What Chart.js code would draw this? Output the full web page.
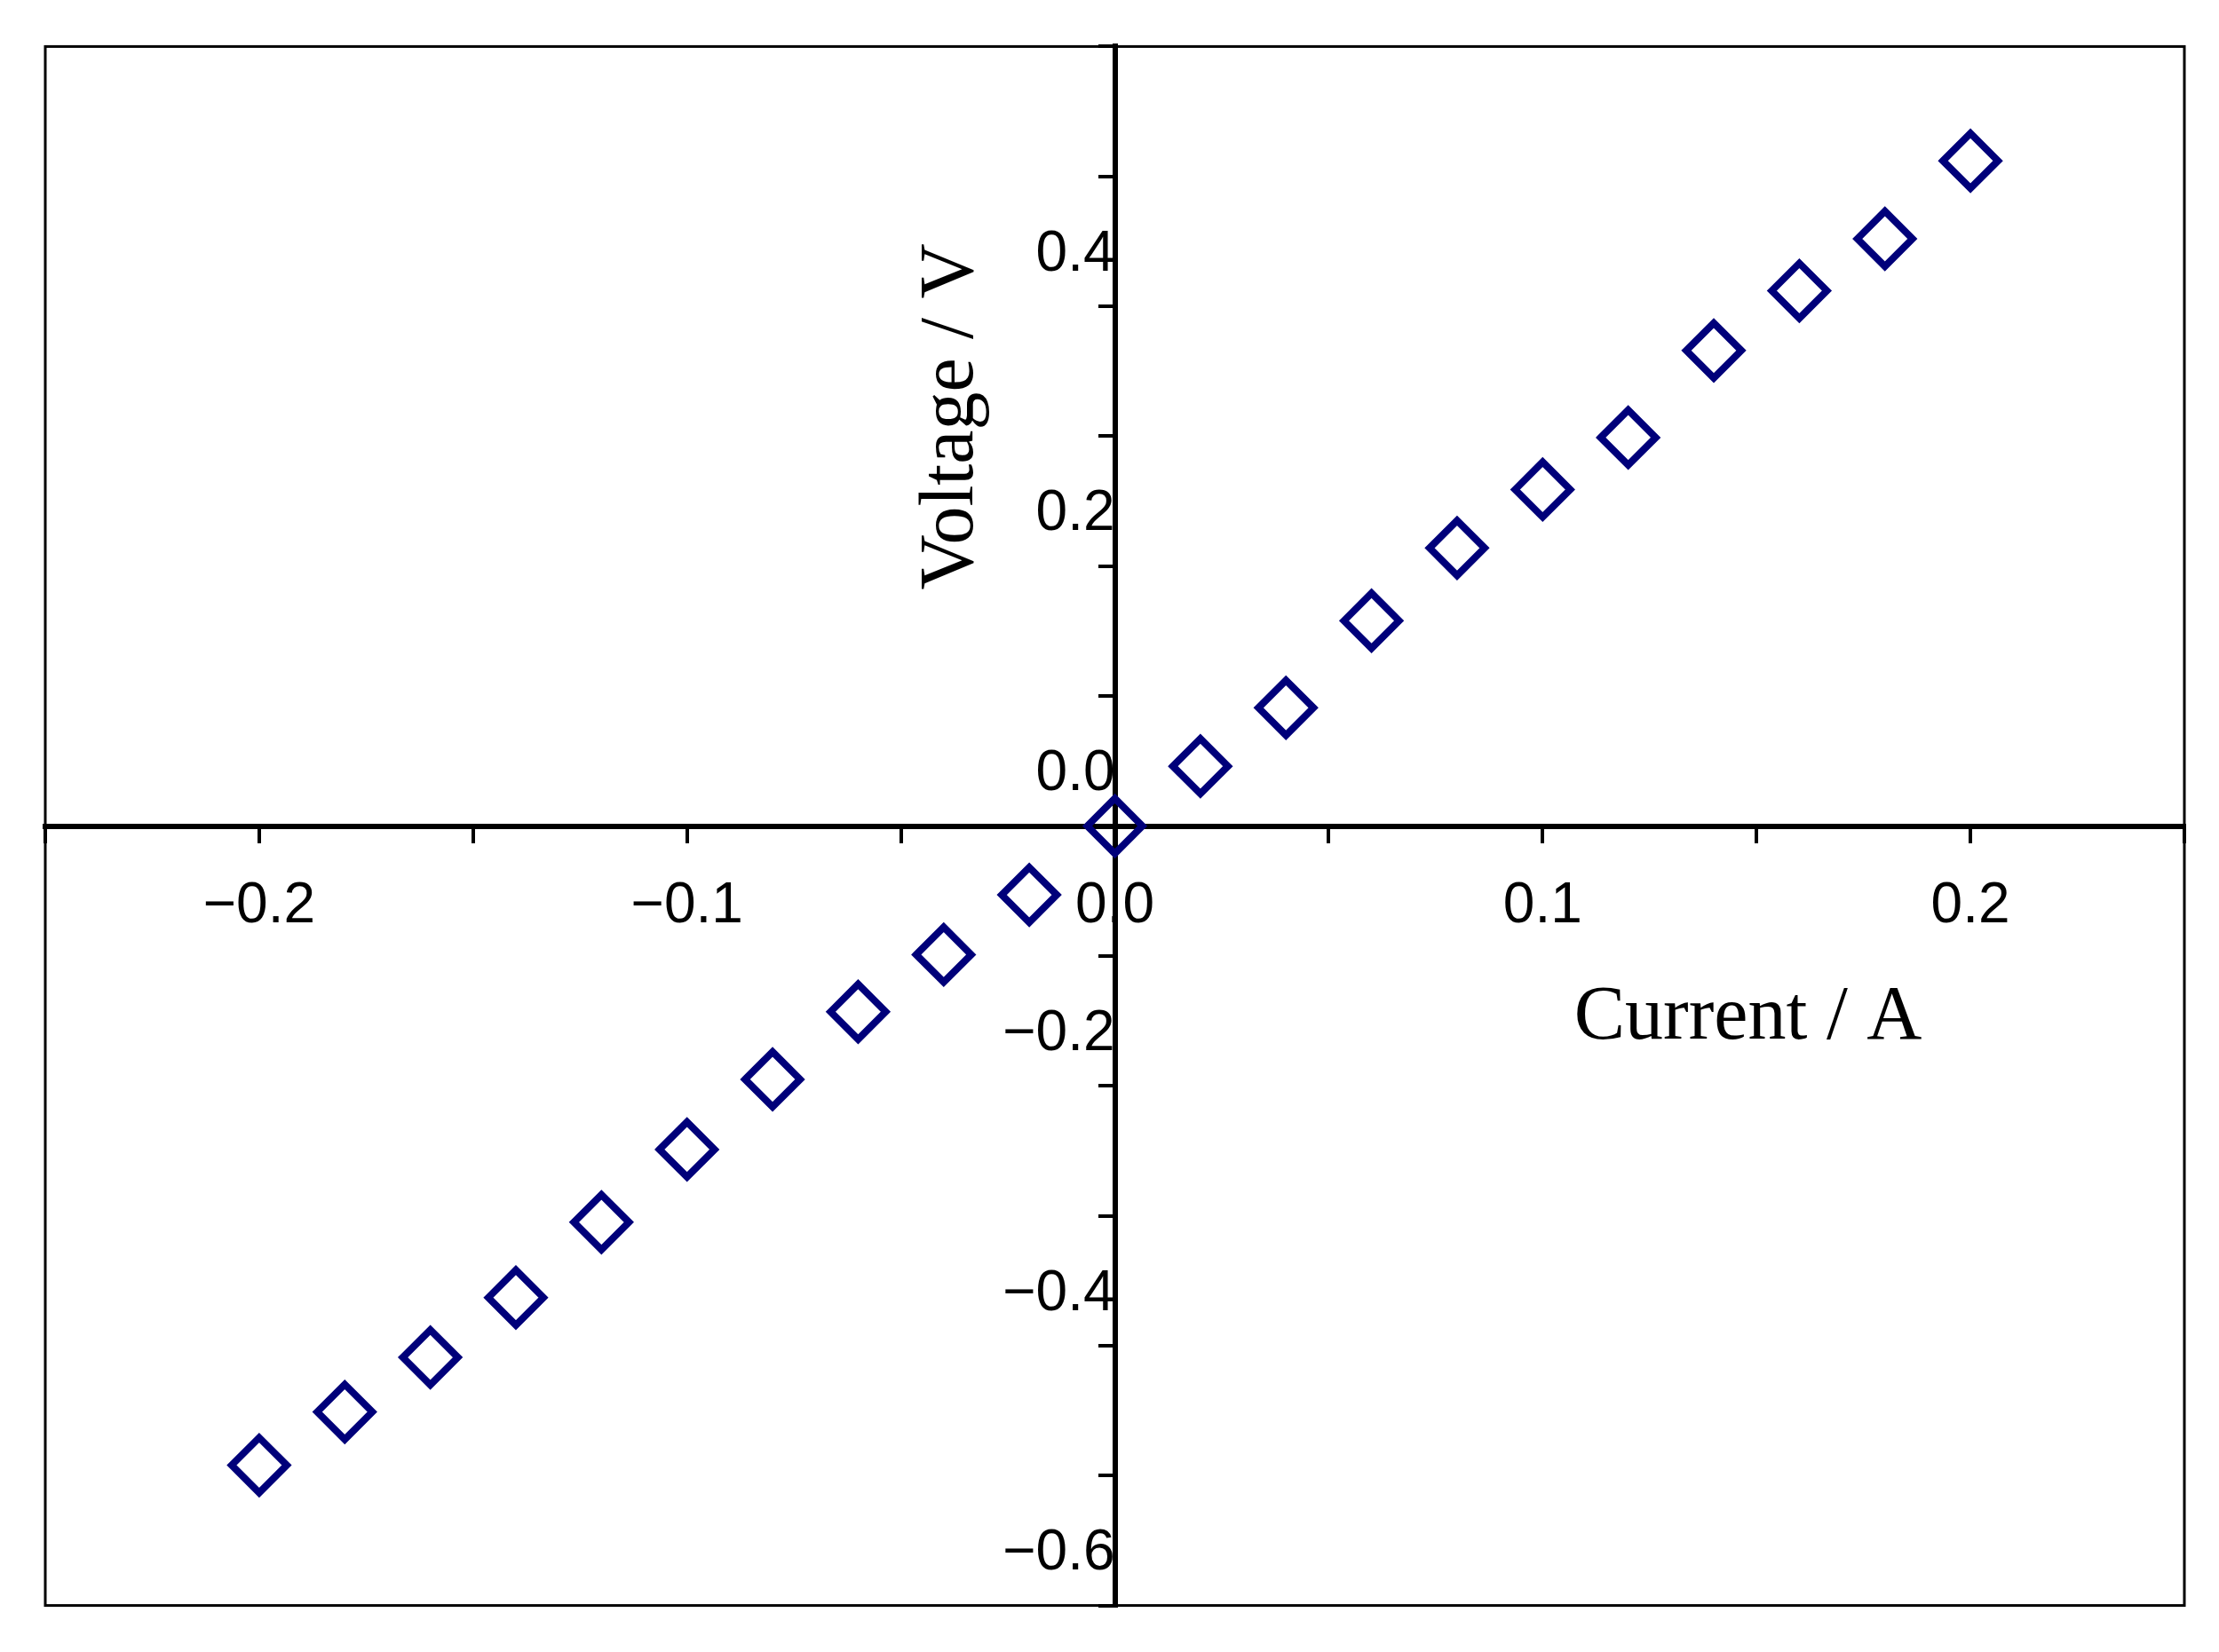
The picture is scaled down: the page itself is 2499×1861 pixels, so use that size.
<!DOCTYPE html>
<html>
<head>
<meta charset="utf-8">
<script src="https://cdn.jsdelivr.net/npm/chart.js@4"></script>
<style>
  html, body { margin: 0; padding: 0; background: #fff; }
  #wrap { width: 2499px; height: 1861px; }
</style>
</head>
<body>
<div id="wrap"><canvas id="ivChart"></canvas></div>
<script>
const currents = [-0.2, -0.18, -0.16, -0.14, -0.12, -0.1, -0.08, -0.06, -0.04, -0.02, 0,
  0.02, 0.04, 0.06, 0.08, 0.1, 0.12, 0.14, 0.16, 0.18, 0.2];
const voltages = [-0.492, -0.451, -0.409, -0.363, -0.305, -0.249, -0.195, -0.143, -0.099, -0.053, 0,
  0.046, 0.091, 0.158, 0.214, 0.259, 0.299, 0.366, 0.412, 0.452, 0.512];
const xTitle = "Current / A";
const yTitle = "Voltage / V";

const fmt = (v) => (v < 0 ? "\u2212" : "") + Math.abs(v).toFixed(1);

// frame + axis titles
const extras = {
  id: "extras",
  afterDraw(chart) {
    const { ctx, chartArea: a, scales } = chart;
    ctx.save();
    ctx.strokeStyle = "#000";
    ctx.lineWidth = 3;
    ctx.strokeRect(a.left, a.top, a.right - a.left, a.bottom - a.top);
    ctx.fillStyle = "#000";
    ctx.font = "86px 'Liberation Serif'";
    ctx.textAlign = "center";
    ctx.textBaseline = "middle";
    ctx.fillText(xTitle, scales.x.getPixelForValue(0.148), scales.y.getPixelForValue(-0.148));
    ctx.translate(scales.x.getPixelForValue(-0.038), scales.y.getPixelForValue(0.315));
    ctx.rotate(-Math.PI / 2);
    ctx.fillText(yTitle, 0, 0);
    ctx.restore();
  }
};

new Chart(document.getElementById("ivChart"), {
  type: "scatter",
  data: {
    datasets: [{
      data: currents.map((c, i) => ({ x: c, y: voltages[i] })),
      pointStyle: "rectRot",
      pointRadius: 31,
      pointBorderWidth: 8,
      pointBorderColor: "#00007a",
      pointBackgroundColor: "rgba(0,0,0,0)",
    }],
  },
  options: {
    responsive: true,
    maintainAspectRatio: false,
    animation: false,
    layout: { padding: { left: 51, right: 38, top: 29, bottom: 27 } },
    plugins: { legend: { display: false }, tooltip: { enabled: false } },
    scales: {
      x: {
        type: "linear",
        position: { y: 0 },
        min: -0.25, max: 0.25,
        border: { color: "#000", width: 6 },
        grid: { drawOnChartArea: false, color: "#000", lineWidth: 4, tickLength: 16 },
        ticks: {
          stepSize: 0.05, autoSkip: false, maxRotation: 0, padding: 36,
          color: "#000", font: { size: 64, family: "'Liberation Sans'" },
          callback: (v) => (Math.round(v * 100) % 10 === 0 ? fmt(v) : ""),
        },
      },
      y: {
        type: "linear",
        position: { x: 0 },
        min: -0.6, max: 0.6,
        border: { color: "#000", width: 6 },
        grid: { drawOnChartArea: false, color: "#000", lineWidth: 4, tickLength: 16 },
        ticks: {
          stepSize: 0.1, autoSkip: false, padding: 14, labelOffset: -58,
          color: "#000", font: { size: 64, family: "'Liberation Sans'" },
          callback: (v) => (Math.round(v * 10) % 2 === 0 && v < 0.55 ? fmt(v) : ""),
        },
      },
    },
  },
  plugins: [extras],
});
</script>
</body>
</html>
